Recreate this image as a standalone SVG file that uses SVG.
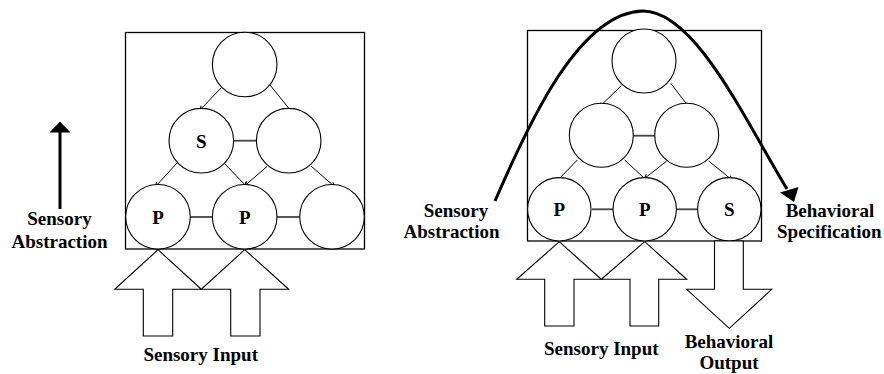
<svg xmlns="http://www.w3.org/2000/svg" width="884" height="374" viewBox="0 0 884 374">
<defs>
<marker id="tip" markerUnits="userSpaceOnUse" markerWidth="6" markerHeight="6" viewBox="0 0 6 6" refX="5" refY="3" orient="auto">
<path d="M1,0.8 L5,3 L1,5.2" fill="none" stroke="#000" stroke-width="1"/>
</marker>
</defs>
<style>
.box{fill:none;stroke:#000;stroke-width:1.3}
.n{fill:#fff;stroke:#000;stroke-width:1.1}
.c{stroke:#000;stroke-width:1;fill:none}
.h{stroke:#444;stroke-width:1.8;fill:none}
.big{fill:#fff;stroke:#000;stroke-width:1.1}
.t{font-family:"Liberation Serif","Times New Roman",serif;font-weight:bold;font-size:19px;fill:#000;text-anchor:middle}
.thick{fill:none;stroke:#000;stroke-width:3}
</style>
<rect width="884" height="374" fill="#fff"/>

<!-- Left panel -->
<rect class="box" x="125.5" y="32.5" width="239" height="216.5"/>
<g id="connectors-left">
<line class="c" x1="221" y1="88" x2="200" y2="110" marker-end="url(#tip)"/>
<line class="c" x1="270" y1="85" x2="289" y2="108.5"/>
<line class="h" x1="234" y1="140.7" x2="256" y2="140.7"/>
<line class="c" x1="177" y1="163" x2="155.5" y2="186.5" marker-end="url(#tip)"/>
<line class="c" x1="224" y1="163" x2="246.5" y2="186.5" marker-end="url(#tip)"/>
<line class="c" x1="267" y1="166.5" x2="245" y2="185.5" marker-end="url(#tip)"/>
<line class="c" x1="311" y1="166" x2="334.5" y2="186.5" marker-end="url(#tip)"/>
<line class="h" x1="190.5" y1="217" x2="215" y2="217"/>
<line class="h" x1="277" y1="217" x2="299.5" y2="217"/>
</g>
<g id="L-top"><circle class="n" cx="244.7" cy="64.5" r="32.3"/></g>
<g id="L-S"><circle class="n" cx="201.3" cy="140.7" r="32.3"/><text class="t" x="201.3" y="147.5">S</text></g>
<g id="L-m2"><circle class="n" cx="288.7" cy="140.7" r="32.3"/></g>
<g id="L-P1"><circle class="n" cx="158" cy="216.8" r="32.3"/><text class="t" x="158" y="223.5">P</text></g>
<g id="L-P2"><circle class="n" cx="244.7" cy="216.8" r="32.3"/><text class="t" x="244.7" y="223.5">P</text></g>
<g id="L-b3"><circle class="n" cx="332" cy="216.8" r="32.3"/></g>

<g id="L-input-arrows">
<polygon class="big" points="143.3,336 143.3,289.3 114.7,289.3 158,249.7 201.3,289.3 172.7,289.3 172.7,336"/>
<polygon class="big" points="230.7,336 230.7,289.3 201.3,289.3 244.7,249.7 288.7,289.3 260,289.3 260,336"/>
</g>
<g id="L-abstraction-arrow">
<line class="thick" x1="60" y1="209" x2="60" y2="130"/>
<polygon points="60,121.5 49.5,132.5 70.5,132.5" fill="#000"/>
</g>
<text class="t" x="59.5" y="225">Sensory</text>
<text class="t" x="59.5" y="248">Abstraction</text>
<text class="t" x="200.7" y="360.5">Sensory Input</text>

<!-- Right panel -->
<rect class="box" x="527.5" y="30.5" width="234" height="210.5"/>
<g id="connectors-right">
<line class="c" x1="621.3" y1="85.7" x2="599.3" y2="107" marker-end="url(#tip)"/>
<line class="c" x1="670.7" y1="83.3" x2="687" y2="104.5"/>
<line class="h" x1="633.3" y1="135.7" x2="654.7" y2="135.7"/>
<line class="c" x1="577.3" y1="160" x2="556.5" y2="181.5" marker-end="url(#tip)"/>
<line class="c" x1="624.7" y1="160" x2="646.7" y2="180.5" marker-end="url(#tip)"/>
<line class="c" x1="666.7" y1="161" x2="644.5" y2="178.5" marker-end="url(#tip)"/>
<line class="c" x1="708.7" y1="161" x2="732" y2="180" marker-end="url(#tip)"/>
<line class="h" x1="592" y1="209.3" x2="615.3" y2="209.3"/>
<line class="h" x1="676.7" y1="209.3" x2="697.3" y2="209.3"/>
</g>
<g id="R-top"><circle class="n" cx="644" cy="61" r="32"/></g>
<g id="R-m1"><circle class="n" cx="601.3" cy="135.3" r="32"/></g>
<g id="R-m2"><circle class="n" cx="686.7" cy="135.3" r="32"/></g>
<g id="R-P1"><circle class="n" cx="559.3" cy="209.3" r="31.7"/><text class="t" x="559.3" y="216">P</text></g>
<g id="R-P2"><circle class="n" cx="644.7" cy="209.3" r="31.7"/><text class="t" x="644.7" y="216">P</text></g>
<g id="R-S"><circle class="n" cx="729.3" cy="209.3" r="31.7"/><text class="t" x="729.3" y="216">S</text></g>

<g id="R-input-arrows">
<polygon class="big" points="544.7,326 544.7,279.3 516.7,279.3 559.3,241.7 601.3,279.3 574,279.3 574,326"/>
<polygon class="big" points="630,326 630,279.3 601.3,279.3 644.7,241.7 686.7,279.3 658.7,279.3 658.7,326"/>
</g>
<g id="R-output-arrow">
<polygon class="big" points="714.5,241 714.5,289.3 686.7,289.3 729.3,328.3 771.7,289.3 743.3,289.3 743.3,241"/>
</g>
<g id="R-curve">
<path class="thick" d="M495,201 C530,120 580,12 643,11 C695,11 745,120 787,189"/>
<polygon points="794,202 780,192.5 798.5,187" fill="#000"/>
</g>
<text class="t" x="456" y="216.7">Sensory</text>
<text class="t" x="451.5" y="238.3">Abstraction</text>
<text class="t" x="830" y="216.7">Behavioral</text>
<text class="t" x="829.3" y="238.3">Specification</text>
<text class="t" x="601.3" y="355">Sensory Input</text>
<text class="t" x="729" y="348.3">Behavioral</text>
<text class="t" x="729" y="368.5">Output</text>
</svg>
